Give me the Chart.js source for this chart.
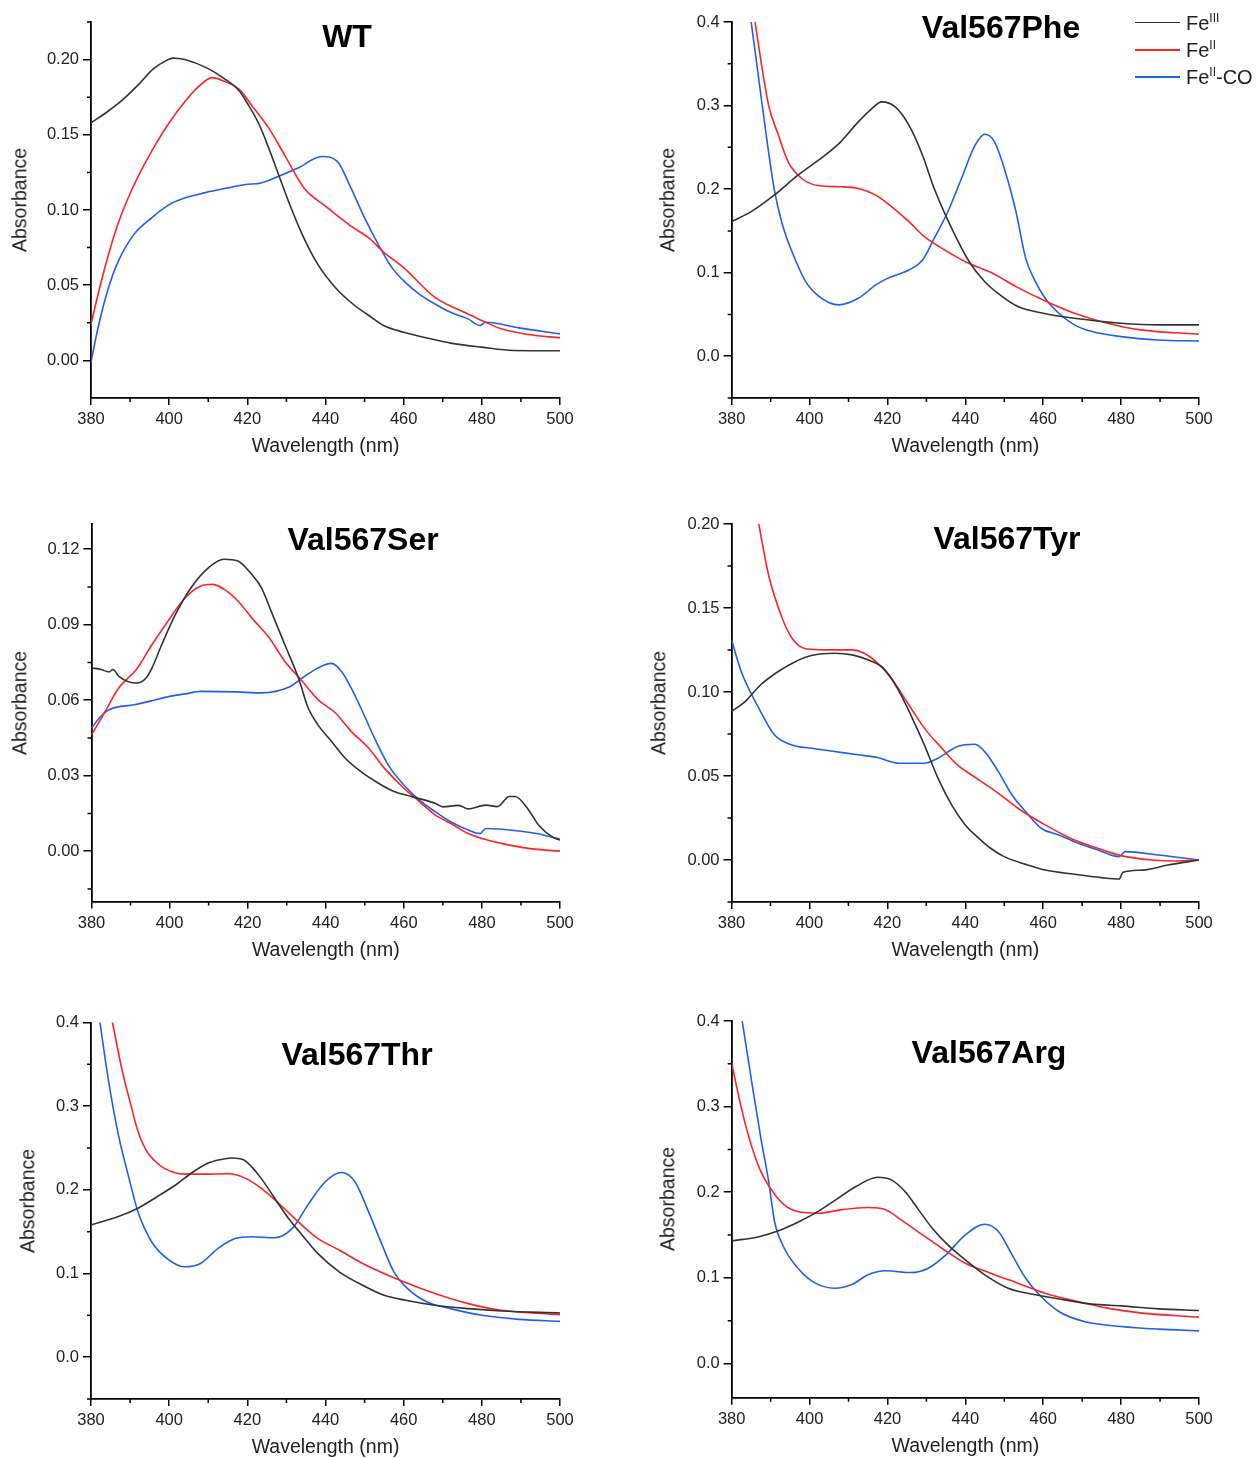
<!DOCTYPE html>
<html>
<head>
<meta charset="utf-8">
<script src="https://cdn.jsdelivr.net/npm/chart.js@4.4.1/dist/chart.umd.min.js"></script>
<style>
  html, body { margin: 0; padding: 0; background: #fff; overflow: hidden; width: 1256px; height: 1458px; }
  canvas { position: absolute; }
  .ttl { position: absolute; font: bold 32px "Liberation Sans", Arial, sans-serif; line-height: 32px;
         transform: translateX(-50%); white-space: nowrap; color: #000; }
  .ytitle { position: absolute; font: 19.5px "Liberation Sans", Arial, sans-serif; line-height: 1.2;
            transform: translate(-50%, -50%) rotate(-90deg); white-space: nowrap; color: #222; }
  .leg-line { position: absolute; height: 1.6px; width: 45px; }
  .leg-text { position: absolute; font: 20px "Liberation Sans", Arial, sans-serif; line-height: 20px; white-space: nowrap; color: #222; }
  .leg-text sup { font-size: 12px; vertical-align: 8px; line-height: 0; }
</style>
</head>
<body>
<script>
// ---- data: [wavelength (nm), absorbance] ----
const SERIES_NAMES = ["Fe<sup>III</sup>", "Fe<sup>II</sup>", "Fe<sup>II</sup>-CO"];
const COLORS = ["#333333", "#ff2424", "#1f5ff0"];

const X_TICKS = [380, 400, 420, 440, 460, 480, 500];
const X_MINOR = [390, 410, 430, 450, 470, 490];

const WT_FE3 = [[380,0.158],[384,0.165],[388,0.173],[392,0.183],[396,0.194],[399,0.199],[401,0.201],[404,0.200],[410,0.194],[414,0.1875],[418,0.179],[420,0.171],[423,0.157],[425.5,0.141],[428,0.1235],[430.5,0.106],[434,0.084],[438,0.064],[442.5,0.0485],[447,0.0375],[451,0.030],[455,0.023],[460,0.0187],[468,0.0137],[472,0.0115],[480,0.0088],[488,0.0066],[500,0.0064]];
const WT_FE2 = [[380,0.024],[382,0.046],[384.5,0.0706],[387,0.0915],[389.5,0.108],[392,0.122],[395.5,0.139],[400,0.158],[404,0.172],[407.5,0.182],[411,0.188],[414,0.1857],[418,0.180],[421,0.170],[425.5,0.1544],[429.5,0.1367],[434.5,0.1147],[440,0.1025],[446.5,0.0893],[451,0.0816],[455,0.0717],[460,0.0617],[468,0.0419],[476.5,0.0309],[480,0.0265],[485,0.021],[492,0.0172],[500,0.015]];
const WT_FECO = [[380,-0.001],[382,0.024],[384.5,0.0485],[387,0.066],[391,0.0838],[395.5,0.0948],[400,0.1036],[404,0.108],[409,0.1114],[415,0.1147],[419.5,0.1169],[423.5,0.118],[428,0.1224],[433,0.1279],[439,0.1356],[443,0.1323],[446.5,0.1147],[450,0.0948],[453.5,0.0772],[457,0.0617],[460,0.0529],[464,0.0441],[468,0.0375],[472,0.032],[476.5,0.0276],[479.5,0.0232],[481,0.0254],[489.5,0.0216],[500,0.0176]];
const WT_Y_TICKS = [0, 0.05, 0.10, 0.15, 0.20];
const WT_Y_MINOR = [0.025, 0.075, 0.125, 0.175, 0.225];

const PHE_FE3 = [[380,0.161],[385,0.173],[391,0.193],[397,0.2167],[404,0.2406],[408,0.2566],[412.5,0.2805],[416,0.2964],[418.5,0.3044],[422,0.2984],[425.5,0.2765],[429,0.2406],[432,0.2008],[436.5,0.153],[441,0.1131],[445,0.0892],[449.5,0.0713],[453.5,0.0594],[460,0.0514],[468,0.0454],[480,0.0394],[490,0.0375],[500,0.0375]];
const PHE_FE2 = [[380,0.62],[383,0.50],[386,0.40],[389.5,0.30],[392,0.2645],[394.5,0.2327],[398,0.2127],[402.5,0.204],[408,0.2028],[412.5,0.2008],[417,0.1928],[420,0.1829],[425.5,0.161],[429.5,0.143],[434,0.129],[440,0.1131],[447,0.0992],[453,0.0833],[460,0.0673],[468,0.0514],[476.5,0.0394],[485,0.0315],[500,0.0263]];
const PHE_FECO = [[380,0.60],[383,0.47],[385,0.40],[387,0.33],[389,0.26],[391,0.198],[393,0.158],[395.5,0.125],[399,0.0892],[402.5,0.0713],[407.5,0.0614],[412.5,0.0693],[417,0.0853],[420,0.0932],[425.5,0.1032],[429,0.1151],[432,0.141],[435.5,0.1729],[439,0.2127],[442.5,0.2526],[445,0.2657],[447.5,0.2566],[450,0.2247],[453,0.1729],[455.5,0.1171],[458,0.0892],[460.5,0.0693],[464,0.0514],[468,0.0375],[472.5,0.0295],[480,0.0235],[489.5,0.0195],[500,0.0183]];
const PHE_Y_TICKS = [0, 0.1, 0.2, 0.3, 0.4];
const PHE_Y_MINOR = [-0.05, 0.05, 0.15, 0.25, 0.35];

const SER_FE3 = [[380,0.0728],[382.5,0.0722],[384.5,0.0712],[385.5,0.0722],[387,0.0695],[391.5,0.0668],[394,0.0688],[395.5,0.0728],[398,0.0821],[401.5,0.0941],[405.5,0.1047],[410,0.1127],[414,0.116],[417.5,0.1153],[421,0.110],[423.5,0.1047],[426,0.0954],[429.5,0.0821],[433,0.0688],[435.5,0.0569],[438,0.0502],[441.5,0.0436],[445,0.0369],[449,0.0316],[453.5,0.027],[457.5,0.0237],[462,0.0217],[468,0.019],[470,0.0176],[474,0.0182],[476.5,0.0168],[481,0.0183],[484,0.0177],[487,0.0217],[488.5,0.0217],[492,0.0163],[494.5,0.0104],[498,0.0057],[500,0.0044]];
const SER_FE2 = [[380,0.0462],[383.5,0.0555],[387,0.0649],[391.5,0.0722],[395.5,0.0821],[399,0.0901],[404,0.1007],[408,0.1054],[411,0.106],[414,0.104],[417.5,0.0994],[421,0.0928],[425.5,0.0848],[429.5,0.0755],[434,0.0675],[438,0.0602],[442.5,0.0549],[446.5,0.0476],[451,0.0409],[455,0.033],[460,0.025],[464,0.0197],[468,0.0144],[472,0.011],[476.5,0.007],[480,0.005],[485,0.0031],[492,0.0011],[500,0.0]];
const SER_FECO = [[380,0.0489],[382,0.0529],[384.5,0.0562],[391,0.0582],[395.5,0.0598],[400,0.0615],[404,0.0625],[408,0.0635],[417,0.0633],[423.5,0.0629],[430.5,0.0651],[434,0.0688],[438,0.0728],[441.5,0.0746],[444,0.0715],[446.5,0.0649],[449,0.0569],[452.5,0.0449],[456,0.0343],[460,0.0263],[464,0.0203],[468,0.0157],[472,0.0117],[476.5,0.0084],[479.5,0.007],[481,0.009],[489.5,0.008],[494,0.007],[500,0.0048]];
const SER_Y_TICKS = [0, 0.03, 0.06, 0.09, 0.12];
const SER_Y_MINOR = [-0.015, 0.015, 0.045, 0.075, 0.105];

const TYR_FE3 = [[380,0.0884],[383.5,0.0943],[387.5,0.1043],[392,0.1122],[396.5,0.1182],[400.5,0.1217],[406.5,0.1231],[411,0.1221],[415,0.1192],[418.5,0.1152],[421,0.1082],[423.5,0.0983],[426,0.0864],[429.5,0.0685],[433,0.0487],[436.5,0.0328],[440,0.0209],[443.5,0.0129],[446.5,0.007],[450,0.002],[455.5,-0.0026],[460.5,-0.006],[468,-0.0085],[475,-0.0105],[479.5,-0.0113],[480.5,-0.0073],[485.5,-0.006],[492,-0.003],[500,0.0]];
const TYR_FE2 = [[380,0.31],[384,0.24],[387,0.20],[389.5,0.1698],[393,0.144],[395.5,0.1321],[399,0.1257],[404,0.1251],[411,0.1251],[414,0.1231],[417.5,0.1172],[421,0.1082],[425.5,0.0924],[429.5,0.0785],[434,0.0665],[438,0.0566],[443.5,0.0477],[448.5,0.0397],[453.5,0.0308],[460.5,0.0209],[468,0.0119],[474,0.007],[480,0.0026],[488,0.0],[494,-0.0006],[500,0.0]];
const TYR_FECO = [[380,0.1311],[382.5,0.1122],[387,0.0904],[391,0.0745],[395.5,0.0685],[400.5,0.0665],[405.5,0.0649],[412.5,0.0626],[417.5,0.061],[423,0.0576],[429.5,0.0576],[433,0.0606],[438,0.0675],[442.5,0.0689],[445,0.0645],[448.5,0.0526],[452,0.0387],[455.5,0.0288],[459.5,0.0189],[464,0.0149],[468,0.0109],[474,0.006],[479.5,0.002],[481,0.005],[489.5,0.003],[500,0.0]];
const TYR_Y_TICKS = [0, 0.05, 0.10, 0.15, 0.20];
const TYR_Y_MINOR = [-0.025, 0.025, 0.075, 0.125, 0.175];

const THR_FE3 = [[380,0.158],[387,0.168],[392,0.178],[397,0.192],[402,0.207],[406,0.221],[410,0.232],[413,0.236],[416,0.238],[419,0.236],[421,0.228],[423.5,0.214],[427,0.19],[430.5,0.166],[434,0.146],[438,0.124],[443.5,0.102],[449.5,0.086],[455,0.074],[460.5,0.068],[468,0.062],[476.5,0.058],[485,0.0552],[500,0.0528]];
const THR_FE2 = [[380,0.55],[383,0.46],[385.5,0.40],[388,0.342],[390,0.305],[392,0.27],[394,0.248],[396,0.236],[399,0.225],[404,0.2188],[409,0.2188],[415,0.2192],[419.5,0.214],[423.5,0.202],[428,0.184],[433,0.162],[438,0.142],[443.5,0.128],[449.5,0.112],[455,0.1],[460,0.09],[468,0.076],[476.5,0.064],[485,0.056],[500,0.0508]];
const THR_FECO = [[380,0.48],[382.3,0.40],[384.5,0.33],[387,0.266],[389.5,0.218],[392,0.174],[395.5,0.138],[400,0.116],[404,0.108],[408,0.112],[412.5,0.13],[417,0.142],[421,0.144],[427,0.1428],[431.5,0.154],[435.5,0.182],[440,0.21],[444,0.2208],[447.5,0.21],[451,0.174],[454.5,0.134],[457.5,0.102],[461,0.082],[466,0.066],[472,0.058],[480,0.05],[489.5,0.0452],[500,0.0428]];
const THR_Y_TICKS = [0, 0.1, 0.2, 0.3, 0.4];
const THR_Y_MINOR = [-0.05, 0.05, 0.15, 0.25, 0.35];

const ARG_FE3 = [[380,0.1432],[387,0.148],[392,0.155],[397,0.165],[402,0.177],[407,0.192],[412,0.207],[417.5,0.2175],[421,0.2144],[424.5,0.2008],[428,0.1794],[431.5,0.158],[435.5,0.1385],[440,0.121],[445,0.1035],[451,0.0879],[458,0.0802],[465.5,0.0743],[472.5,0.0693],[480,0.0673],[489.5,0.0638],[500,0.0619]];
const ARG_FE2 = [[380,0.3506],[382.5,0.298],[385,0.2553],[387.5,0.2241],[390.5,0.2008],[393.5,0.1852],[397,0.1774],[402.5,0.1755],[408,0.1794],[415,0.1821],[419.5,0.1794],[423.5,0.1677],[429,0.1502],[434,0.1346],[440,0.1171],[446.5,0.1054],[453.5,0.0938],[460.5,0.0821],[468,0.0732],[476.5,0.0646],[485.5,0.0588],[500,0.0541]];
const ARG_FECO = [[380,0.48],[382.7,0.40],[385,0.333],[387.5,0.263],[389.5,0.2125],[391,0.1658],[393.5,0.1346],[397,0.1113],[401.5,0.0938],[406.5,0.0879],[411,0.0926],[415,0.1035],[419.5,0.1082],[426,0.1062],[430.5,0.1113],[435,0.1268],[440,0.1502],[445,0.1626],[448.5,0.1541],[452,0.1268],[455.5,0.0996],[459,0.0802],[464,0.0607],[470.5,0.049],[480,0.0432],[489.5,0.0401],[500,0.0381]];
const ARG_Y_TICKS = [0, 0.1, 0.2, 0.3, 0.4];
const ARG_Y_MINOR = [0.05, 0.15, 0.25, 0.35];

// ---- layout of the six panels (page pixels) ----
const PANELS = [
  { title: "WT",        tx: 347,  ty: 36,   left: 0,   top: 0,   w: 620, h: 470, area: { l: 91,    t: 22,     r: 560,  b: 398 },    yTitleX: 19.5, min: -0.025, max: 0.225, dec: 2, yTicks: WT_Y_TICKS,  yMinor: WT_Y_MINOR,  series: [WT_FE3, WT_FE2, WT_FECO] },
  { title: "Val567Phe", tx: 1001, ty: 27,   left: 640, top: 0,   w: 616, h: 470, area: { l: 731.7, t: 22,     r: 1199, b: 398 },    yTitleX: 27.5, min: -0.05,  max: 0.4,   dec: 1, yTicks: PHE_Y_TICKS, yMinor: PHE_Y_MINOR, series: [PHE_FE3, PHE_FE2, PHE_FECO] },
  { title: "Val567Ser", tx: 363,  ty: 539,  left: 0,   top: 480, w: 620, h: 494, area: { l: 91.5,  t: 524,    r: 560,  b: 901.5 },  yTitleX: 19.5, min: -0.02,  max: 0.13,  dec: 2, yTicks: SER_Y_TICKS, yMinor: SER_Y_MINOR, series: [SER_FE3, SER_FE2, SER_FECO] },
  { title: "Val567Tyr", tx: 1007, ty: 538,  left: 640, top: 480, w: 616, h: 494, area: { l: 731.5, t: 524,    r: 1199, b: 902 },    yTitleX: 19,   min: -0.025, max: 0.2,   dec: 2, yTicks: TYR_Y_TICKS, yMinor: TYR_Y_MINOR, series: [TYR_FE3, TYR_FE2, TYR_FECO] },
  { title: "Val567Thr", tx: 357,  ty: 1054, left: 0,   top: 975, w: 620, h: 496, area: { l: 91,    t: 1022.5, r: 560,  b: 1399 },   yTitleX: 28,   min: -0.05,  max: 0.4,   dec: 1, yTicks: THR_Y_TICKS, yMinor: THR_Y_MINOR, series: [THR_FE3, THR_FE2, THR_FECO] },
  { title: "Val567Arg", tx: 989,  ty: 1052, left: 640, top: 975, w: 616, h: 495, area: { l: 731.7, t: 1021,   r: 1199, b: 1397.7 }, yTitleX: 27.5, min: -0.04,  max: 0.4,   dec: 1, yTicks: ARG_Y_TICKS, yMinor: ARG_Y_MINOR, series: [ARG_FE3, ARG_FE2, ARG_FECO] }
];

const FONT = '"Liberation Sans", Arial, sans-serif';
const AXIS_TITLE_SIZE = 19.5;
const HALF_LINE = AXIS_TITLE_SIZE * 1.2 / 2;

// short minor tick marks, placed through the scales
const minorTicks = {
  id: "minorTicks",
  afterDraw(chart, args, opts) {
    const { ctx } = chart;
    const xs = chart.scales.x, ys = chart.scales.y;
    ctx.save();
    ctx.strokeStyle = "#000";
    ctx.lineWidth = 1.5;
    ctx.beginPath();
    (opts.x || []).forEach(v => {
      const px = xs.getPixelForValue(v);
      ctx.moveTo(px, xs.top);
      ctx.lineTo(px, xs.top + 4);
    });
    (opts.y || []).forEach(v => {
      const py = ys.getPixelForValue(v);
      ctx.moveTo(ys.right, py);
      ctx.lineTo(ys.right - 4, py);
    });
    ctx.stroke();
    ctx.restore();
  }
};

function makePanel(p) {
  const cv = document.createElement("canvas");
  cv.width = p.w;
  cv.height = p.h;
  cv.style.left = p.left + "px";
  cv.style.top = p.top + "px";
  cv.style.width = p.w + "px";
  cv.style.height = p.h + "px";
  document.body.appendChild(cv);

  const yWidth = p.area.l - p.left;
  const xHeight = p.top + p.h - p.area.b;

  new Chart(cv, {
    type: "line",
    data: {
      datasets: p.series.map((s, i) => ({
        label: SERIES_NAMES[i],
        data: s.map(([x, y]) => ({ x, y })),
        borderColor: COLORS[i],
        borderWidth: 1.6,
        pointRadius: 0,
        fill: false,
        cubicInterpolationMode: "monotone"
      }))
    },
    options: {
      responsive: false,
      animation: false,
      layout: { padding: { left: 0, top: p.area.t - p.top, right: p.left + p.w - p.area.r, bottom: 0 } },
      plugins: {
        legend: { display: false },
        tooltip: { enabled: false },
        minorTicks: { x: X_MINOR, y: p.yMinor }
      },
      scales: {
        x: {
          type: "linear",
          min: 380,
          max: 500,
          afterBuildTicks: s => { s.ticks = X_TICKS.map(v => ({ value: v })); },
          afterFit: s => { s.height = xHeight; },
          ticks: { autoSkip: false, maxRotation: 0, padding: 5, color: "#222", font: { family: FONT, size: 16.5 }, callback: v => String(v) },
          grid: { drawOnChartArea: false, drawTicks: true, tickLength: 7, color: "#000", lineWidth: 1.5 },
          border: { display: true, color: "#000", width: 1.8 },
          title: {
            display: true, text: "Wavelength (nm)", color: "#222",
            font: { family: FONT, size: AXIS_TITLE_SIZE },
            padding: { top: 0, bottom: xHeight - 49 - HALF_LINE }
          }
        },
        y: {
          min: p.min,
          max: p.max,
          afterBuildTicks: s => { s.ticks = p.yTicks.map(v => ({ value: v })); },
          afterFit: s => { s.width = yWidth; },
          ticks: { padding: 4, color: "#222", font: { family: FONT, size: 16.5 }, callback: v => Number(v).toFixed(p.dec) },
          grid: { drawOnChartArea: false, drawTicks: true, tickLength: 8, color: "#000", lineWidth: 1.5 },
          border: { display: true, color: "#000", width: 1.8 },
          title: { display: false }
        }
      }
    },
    plugins: [minorTicks]
  });

  const t = document.createElement("div");
  t.className = "ttl";
  t.textContent = p.title;
  t.style.left = p.tx + "px";
  t.style.top = (p.ty - 16) + "px";
  document.body.appendChild(t);

  const yt = document.createElement("div");
  yt.className = "ytitle";
  yt.textContent = "Absorbance";
  yt.style.left = (p.left + p.yTitleX) + "px";
  yt.style.top = ((p.area.t + p.area.b) / 2 - 10) + "px";
  document.body.appendChild(yt);
}

PANELS.forEach(makePanel);

// legend (top right), with superscripts
const LEGEND_Y = [22.7, 50, 77];
SERIES_NAMES.forEach((name, i) => {
  const ln = document.createElement("div");
  ln.className = "leg-line";
  ln.style.left = "1135px";
  ln.style.top = (LEGEND_Y[i] - 0.8) + "px";
  ln.style.background = COLORS[i];
  document.body.appendChild(ln);

  const tx = document.createElement("div");
  tx.className = "leg-text";
  tx.innerHTML = name;
  tx.style.left = "1186px";
  tx.style.top = (LEGEND_Y[i] - 9.8) + "px";
  document.body.appendChild(tx);
});
</script>
</body>
</html>
